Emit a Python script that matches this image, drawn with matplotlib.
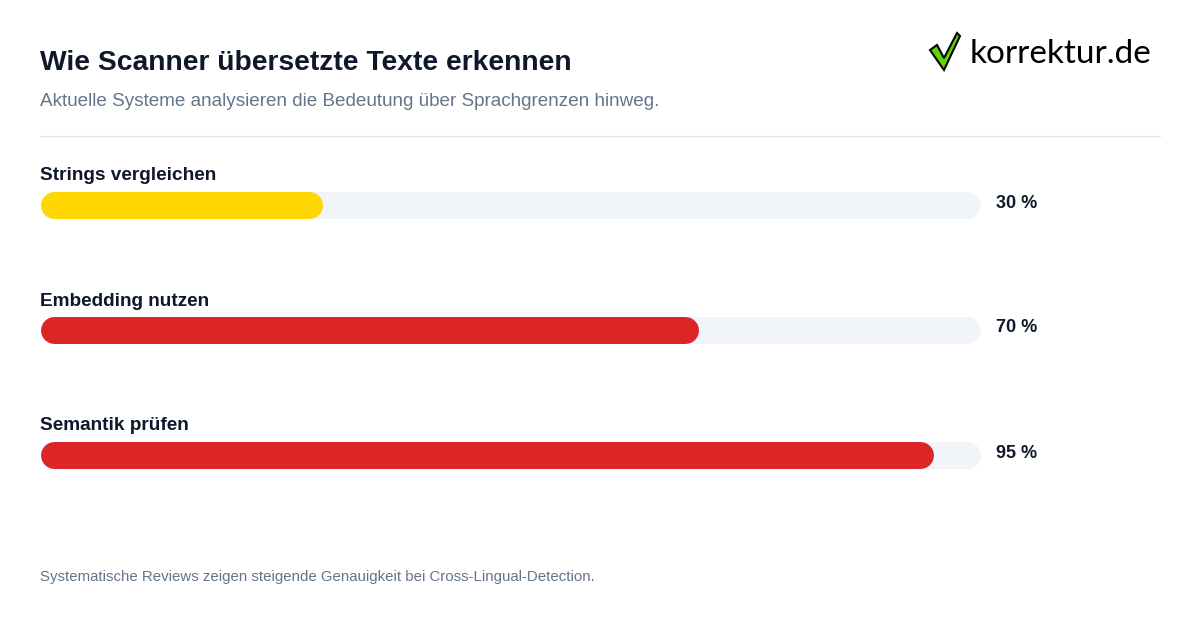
import matplotlib
matplotlib.use("Agg")
import matplotlib.pyplot as plt
from matplotlib.patches import Polygon

categories = ["Strings vergleichen", "Embedding nutzen", "Semantik prüfen"]
values = [30, 70, 95]
colors = ["#FFD700", "#DC2626", "#DC2626"]

plt.rcParams['font.family'] = ['Liberation Sans', 'DejaVu Sans']
W, H = 1200, 630
fig = plt.figure(figsize=(W/100, H/100), dpi=100)
ax = fig.add_axes([0, 0, 1, 1])
ax.set_xlim(0, W); ax.set_ylim(H, 0); ax.axis('off')

dark = "#0f172a"; grey = "#64748b"
ax.text(40, 63, "Wie Scanner übersetzte Texte erkennen", fontsize=20.3, fontweight='bold', color=dark, va='center')
ax.text(40, 102, "Aktuelle Systeme analysieren die Bedeutung über Sprachgrenzen hinweg.", fontsize=13.6, color=grey, va='center')
ax.plot([40, 1160], [136, 136], color="#e2e8f0", lw=1)

x0, x1, bh = 40, 980, 27
lw = bh * 72 / 100
for i, (c, v, col) in enumerate(zip(categories, values, colors)):
    yc = 205 + i * 125
    ax.text(40, yc - 29, c, fontsize=13.7, fontweight='bold', color=dark, va='center')
    ax.plot([x0 + bh/2, x1 - bh/2], [yc, yc], color="#f1f5f9", lw=lw, solid_capstyle='round')
    xe = x0 + (x1 - x0) * v / 100
    ax.plot([x0 + bh/2, xe - bh/2], [yc, yc], color=col, lw=lw, solid_capstyle='round')
    ax.text(996, yc - 2, f"{v} %", fontsize=13, fontweight='bold', color=dark, va='center')

ax.text(40, 577, "Systematische Reviews zeigen steigende Genauigkeit bei Cross-Lingual-Detection.", fontsize=10.85, color=grey, va='center')

# logo
check = [(930, 50), (937, 45), (944, 58), (957, 33), (960, 36), (944, 70)]
ax.add_patch(Polygon(check, closed=True, facecolor="#5ed40c", edgecolor="black", lw=1.5))
ax.text(970, 54, "korrektur.de", fontsize=24, color="black", va='center', family='Lato')

fig.savefig("out.png", dpi=100)
